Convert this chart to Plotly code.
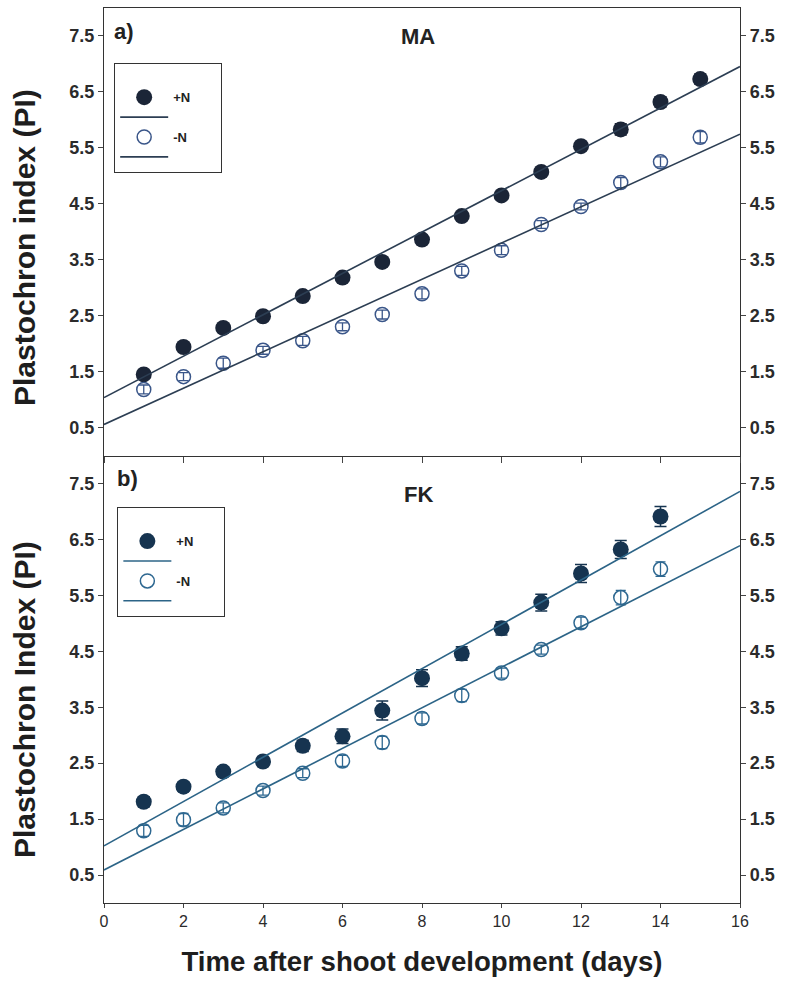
import numpy as np
import plotly.graph_objects as go

# ---- data -------------------------------------------------------------
days_ma = [1, 2, 3, 4, 5, 6, 7, 8, 9, 10, 11, 12, 13, 14, 15]
ma_plus = [1.45, 1.94, 2.28, 2.49, 2.85, 3.18, 3.46, 3.86, 4.28, 4.65, 5.07, 5.53, 5.83, 6.32, 6.73]
ma_plus_se = [0.06, 0.06, 0.07, 0.06, 0.07, 0.06, 0.07, 0.07, 0.06, 0.06, 0.07, 0.07, 0.10, 0.09, 0.09]
ma_minus = [1.18, 1.41, 1.65, 1.88, 2.05, 2.30, 2.52, 2.89, 3.30, 3.67, 4.13, 4.45, 4.88, 5.25, 5.69]
ma_minus_se = [0.08, 0.07, 0.09, 0.07, 0.08, 0.07, 0.08, 0.09, 0.08, 0.08, 0.07, 0.06, 0.09, 0.09, 0.10]

days_fk = [1, 2, 3, 4, 5, 6, 7, 8, 9, 10, 11, 12, 13, 14]
fk_plus = [1.81, 2.08, 2.35, 2.53, 2.81, 2.98, 3.44, 4.02, 4.46, 4.91, 5.37, 5.89, 6.32, 6.91]
fk_plus_se = [0.09, 0.08, 0.08, 0.08, 0.10, 0.13, 0.17, 0.15, 0.12, 0.12, 0.15, 0.16, 0.16, 0.18]
fk_minus = [1.29, 1.49, 1.70, 2.01, 2.32, 2.54, 2.87, 3.30, 3.71, 4.11, 4.53, 5.01, 5.46, 5.97]
fk_minus_se = [0.10, 0.11, 0.09, 0.08, 0.08, 0.10, 0.11, 0.10, 0.11, 0.09, 0.08, 0.10, 0.13, 0.13]

x_range = [0, 16]
y_range = [0, 8]
y_ticks = [0.5, 1.5, 2.5, 3.5, 4.5, 5.5, 6.5, 7.5]
x_ticks = [0, 2, 4, 6, 8, 10, 12, 14, 16]

# ---- styling -----------------------------------------------------------
FONT = "Liberation Sans, Arial, sans-serif"
TOP = dict(filled="#1b2537", line="#2c3e53", open="#3a5689")
BOT = dict(filled="#163450", line="#2c6487", open="#2e6891")
PAD = "\u00a0" * 7  # widens the legend box


def fit_line(x, y):
    """Least-squares regression evaluated across the full time axis."""
    slope, icpt = np.polyfit(x, y, 1)
    xs = np.array(x_range, dtype=float)
    return xs, icpt + slope * xs


fig = go.Figure()


def add_panel(days, plus, plus_se, minus, minus_se, cols, xa, ya, ya_right, legend):
    # regression lines live on the right-hand axis (same scale as the left one)
    xs, ys = fit_line(days, plus)
    xs2, ys2 = fit_line(days, minus)
    fig.add_trace(go.Scatter(x=days, y=plus, mode="markers", name="+N" + PAD,
                             marker=dict(size=16, color=cols["filled"], line=dict(width=0)),
                             error_y=dict(type="data", array=plus_se, color=cols["filled"],
                                          thickness=1.5, width=6),
                             xaxis=xa, yaxis=ya, legend=legend, legendrank=1))
    fig.add_trace(go.Scatter(x=days, y=minus, mode="markers", name="-N" + PAD,
                             marker=dict(size=14, symbol="circle-open", color=cols["open"],
                                         line=dict(width=1.5, color=cols["open"])),
                             error_y=dict(type="data", array=minus_se, color=cols["open"],
                                          thickness=1.3, width=5),
                             xaxis=xa, yaxis=ya, legend=legend, legendrank=3))
    fig.add_trace(go.Scatter(x=xs, y=ys, mode="lines", name=" ",
                             line=dict(color=cols["line"], width=1.6),
                             xaxis=xa, yaxis=ya_right, legend=legend, legendrank=2))
    fig.add_trace(go.Scatter(x=xs2, y=ys2, mode="lines", name="  ",
                             line=dict(color=cols["line"], width=1.6),
                             xaxis=xa, yaxis=ya_right, legend=legend, legendrank=4))


add_panel(days_ma, ma_plus, ma_plus_se, ma_minus, ma_minus_se, TOP, "x2", "y2", "y4", "legend")
add_panel(days_fk, fk_plus, fk_plus_se, fk_minus, fk_minus_se, BOT, "x", "y", "y3", "legend2")

tick_font = dict(family=FONT, size=18, color="#2b2b2b", weight="bold")
y_common = dict(range=y_range, tickvals=y_ticks, ticktext=[f"{v:.1f}" for v in y_ticks],
                ticks="outside", ticklen=5, tickwidth=1, tickcolor="#444",
                showline=True, linecolor="#333", linewidth=1.2,
                showgrid=False, zeroline=False, tickfont=tick_font)

legend_common = dict(xanchor="left", yanchor="top", bordercolor="#333", borderwidth=1,
                     bgcolor="white", tracegroupgap=0, itemwidth=48, traceorder="normal",
                     font=dict(family=FONT, size=13, color="#222", weight="bold"),
                     title=dict(text="\u00a0", font=dict(size=14)))

fig.update_layout(
    width=790, height=988,
    margin=dict(l=104, r=50, t=8, b=85),
    paper_bgcolor="white", plot_bgcolor="white",
    font=dict(family=FONT, color="#222"),
    showlegend=True,
    xaxis=dict(domain=[0, 1], range=x_range, tickvals=x_ticks, ticks="outside", ticklen=4,
               tickcolor="#444", showline=True, linecolor="#333", linewidth=1.2,
               showgrid=False, zeroline=False, anchor="y",
               tickfont=dict(family=FONT, size=16, color="#2b2b2b"),
               title=dict(text="Time after shoot development (days)", standoff=22,
                          font=dict(family=FONT, size=27.6, color="#1e1e1e", weight="bold"))),
    xaxis2=dict(domain=[0, 1], range=x_range, tickvals=x_ticks, ticks="outside", ticklen=6,
                tickcolor="#444", showline=True, mirror=True, linecolor="#333", linewidth=1.2,
                showticklabels=False, showgrid=False, zeroline=False, anchor="y2"),
    yaxis=dict(domain=[0, 0.5], anchor="x", **y_common),
    yaxis2=dict(domain=[0.5, 1], anchor="x2", **y_common),
    yaxis3=dict(overlaying="y", matches="y", side="right", anchor="x", **y_common),
    yaxis4=dict(overlaying="y2", matches="y2", side="right", anchor="x2", **y_common),
    legend=dict(x=0.016, y=0.9385, **legend_common),
    legend2=dict(x=0.021, y=0.4425, **legend_common),
)

# panel letters, cultivar titles and y-axis titles
label_font = dict(family=FONT, size=22, color="#222", weight="bold")
fig.add_annotation(text="a)", x=0.012, y=0.990, xref="paper", yref="paper",
                   xanchor="left", yanchor="top", showarrow=False, font=label_font)
fig.add_annotation(text="MA", x=7.9, y=0.984, xref="x2", yref="paper",
                   xanchor="center", yanchor="top", showarrow=False, font=label_font)
fig.add_annotation(text="b)", x=0.018, y=0.4905, xref="paper", yref="paper",
                   xanchor="left", yanchor="top", showarrow=False, font=label_font)
fig.add_annotation(text="FK", x=7.9, y=0.473, xref="x", yref="paper",
                   xanchor="center", yanchor="top", showarrow=False, font=label_font)

ytitle_font = dict(family=FONT, size=30, color="#1e1e1e", weight="bold")
fig.add_annotation(text="Plastochron index (PI)", x=-0.124, y=0.732, xref="paper", yref="paper",
                   xanchor="center", yanchor="middle",
                   textangle=-90, showarrow=False, font=ytitle_font)
fig.add_annotation(text="Plastochron Index (PI)", x=-0.124, y=0.227, xref="paper", yref="paper",
                   xanchor="center", yanchor="middle",
                   textangle=-90, showarrow=False, font=ytitle_font)

fig.write_html("out.html")
